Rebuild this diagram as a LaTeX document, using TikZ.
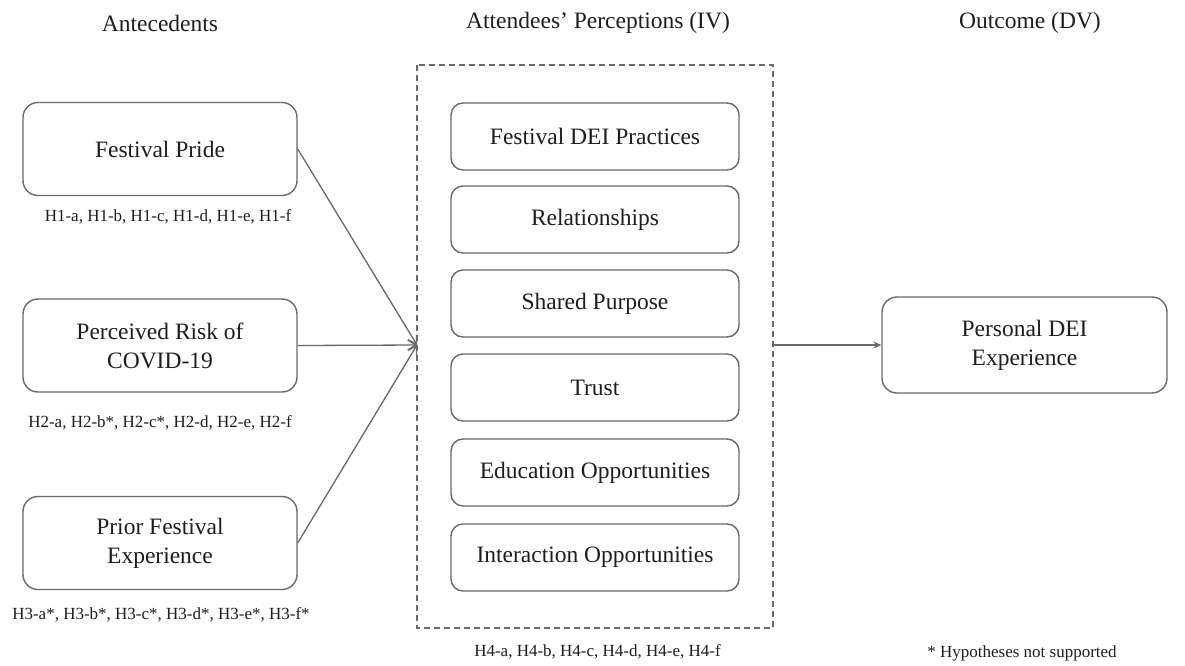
\documentclass[tikz,border=0pt]{standalone}
\usepackage{fontspec}
\setmainfont{Liberation Serif}
\usetikzlibrary{arrows.meta}
\definecolor{edge}{RGB}{105,105,105}
\definecolor{ink}{RGB}{30,30,30}
\tikzset{
  headtext/.style={text=ink,font=\fontsize{23.5}{28}\selectfont},
  hyptext/.style={text=ink,font=\fontsize{17}{20}\selectfont},
  factor/.style={draw=edge,line width=1.4pt,rounded corners=15pt,text=ink,
    align=center,inner sep=0pt,font=\fontsize{23.5}{29}\selectfont},
  leftbox/.style={factor,minimum width=274pt,minimum height=93pt},
  ivbox/.style={factor,minimum width=288pt,minimum height=67pt,rounded corners=12pt},
  link/.style={draw=edge,line width=1.3pt},
}
\begin{document}
\begin{tikzpicture}[x=1pt,y=-1pt]
\useasboundingbox (0,0) rectangle (1185,665);

% column headings
\node[headtext] (hA) at (160,23) {Antecedents};
\node[headtext] (hB) at (598,23) {Attendees’ Perceptions (IV)};
\node[headtext] (hC) at (1030,23) {Outcome (DV)};

% antecedent constructs
\node[leftbox] (pride) at (160,149) {Festival Pride};
\node[leftbox] (risk) at (160,345.5) {Perceived Risk of\\COVID-19};
\node[leftbox] (prior) at (160,543) {Prior Festival\\Experience};

\node[hyptext] (h1) at (168,217) {H1-a, H1-b, H1-c, H1-d, H1-e, H1-f};
\node[hyptext] (h2) at (160,423) {H2-a, H2-b*, H2-c*, H2-d, H2-e, H2-f};
\node[hyptext] (h3) at (161,615) {H3-a*, H3-b*, H3-c*, H3-d*, H3-e*, H3-f*};

% perception group
\draw[draw=edge,line width=1.2pt,dash pattern=on 6pt off 4pt]
  (417,65) rectangle (773,628);
\coordinate (gin) at (417,345);
\coordinate (gout) at (773,345);

\node[ivbox] (p1) at (595,136.5) {Festival DEI Practices};
\node[ivbox] (p2) at (595,219.5) {Relationships};
\node[ivbox] (p3) at (595,303.5) {Shared Purpose};
\node[ivbox] (p4) at (595,387.5) {Trust};
\node[ivbox] (p5) at (595,472.5) {Education Opportunities};
\node[ivbox] (p6) at (595,557.5) {Interaction Opportunities};

\node[hyptext] (h4) at (597.5,652) {H4-a, H4-b, H4-c, H4-d, H4-e, H4-f};

% outcome
\node[factor,minimum width=285pt,minimum height=96pt] (dei) at (1024.5,345)
  {Personal DEI\\Experience};

\node[hyptext] (note) at (1022,653) {* Hypotheses not supported};

% paths
\draw[link,-{Straight Barb[length=8pt,width=10pt]}] (pride.east) -- (gin);
\draw[link,-{Straight Barb[length=8pt,width=10pt]}] (risk.east) -- (gin);
\draw[link,-{Straight Barb[length=8pt,width=10pt]}] (prior.east) -- (gin);
\draw[link,-{Stealth[length=8pt,width=7pt]}] (gout) -- (dei.west);
\end{tikzpicture}
\end{document}
